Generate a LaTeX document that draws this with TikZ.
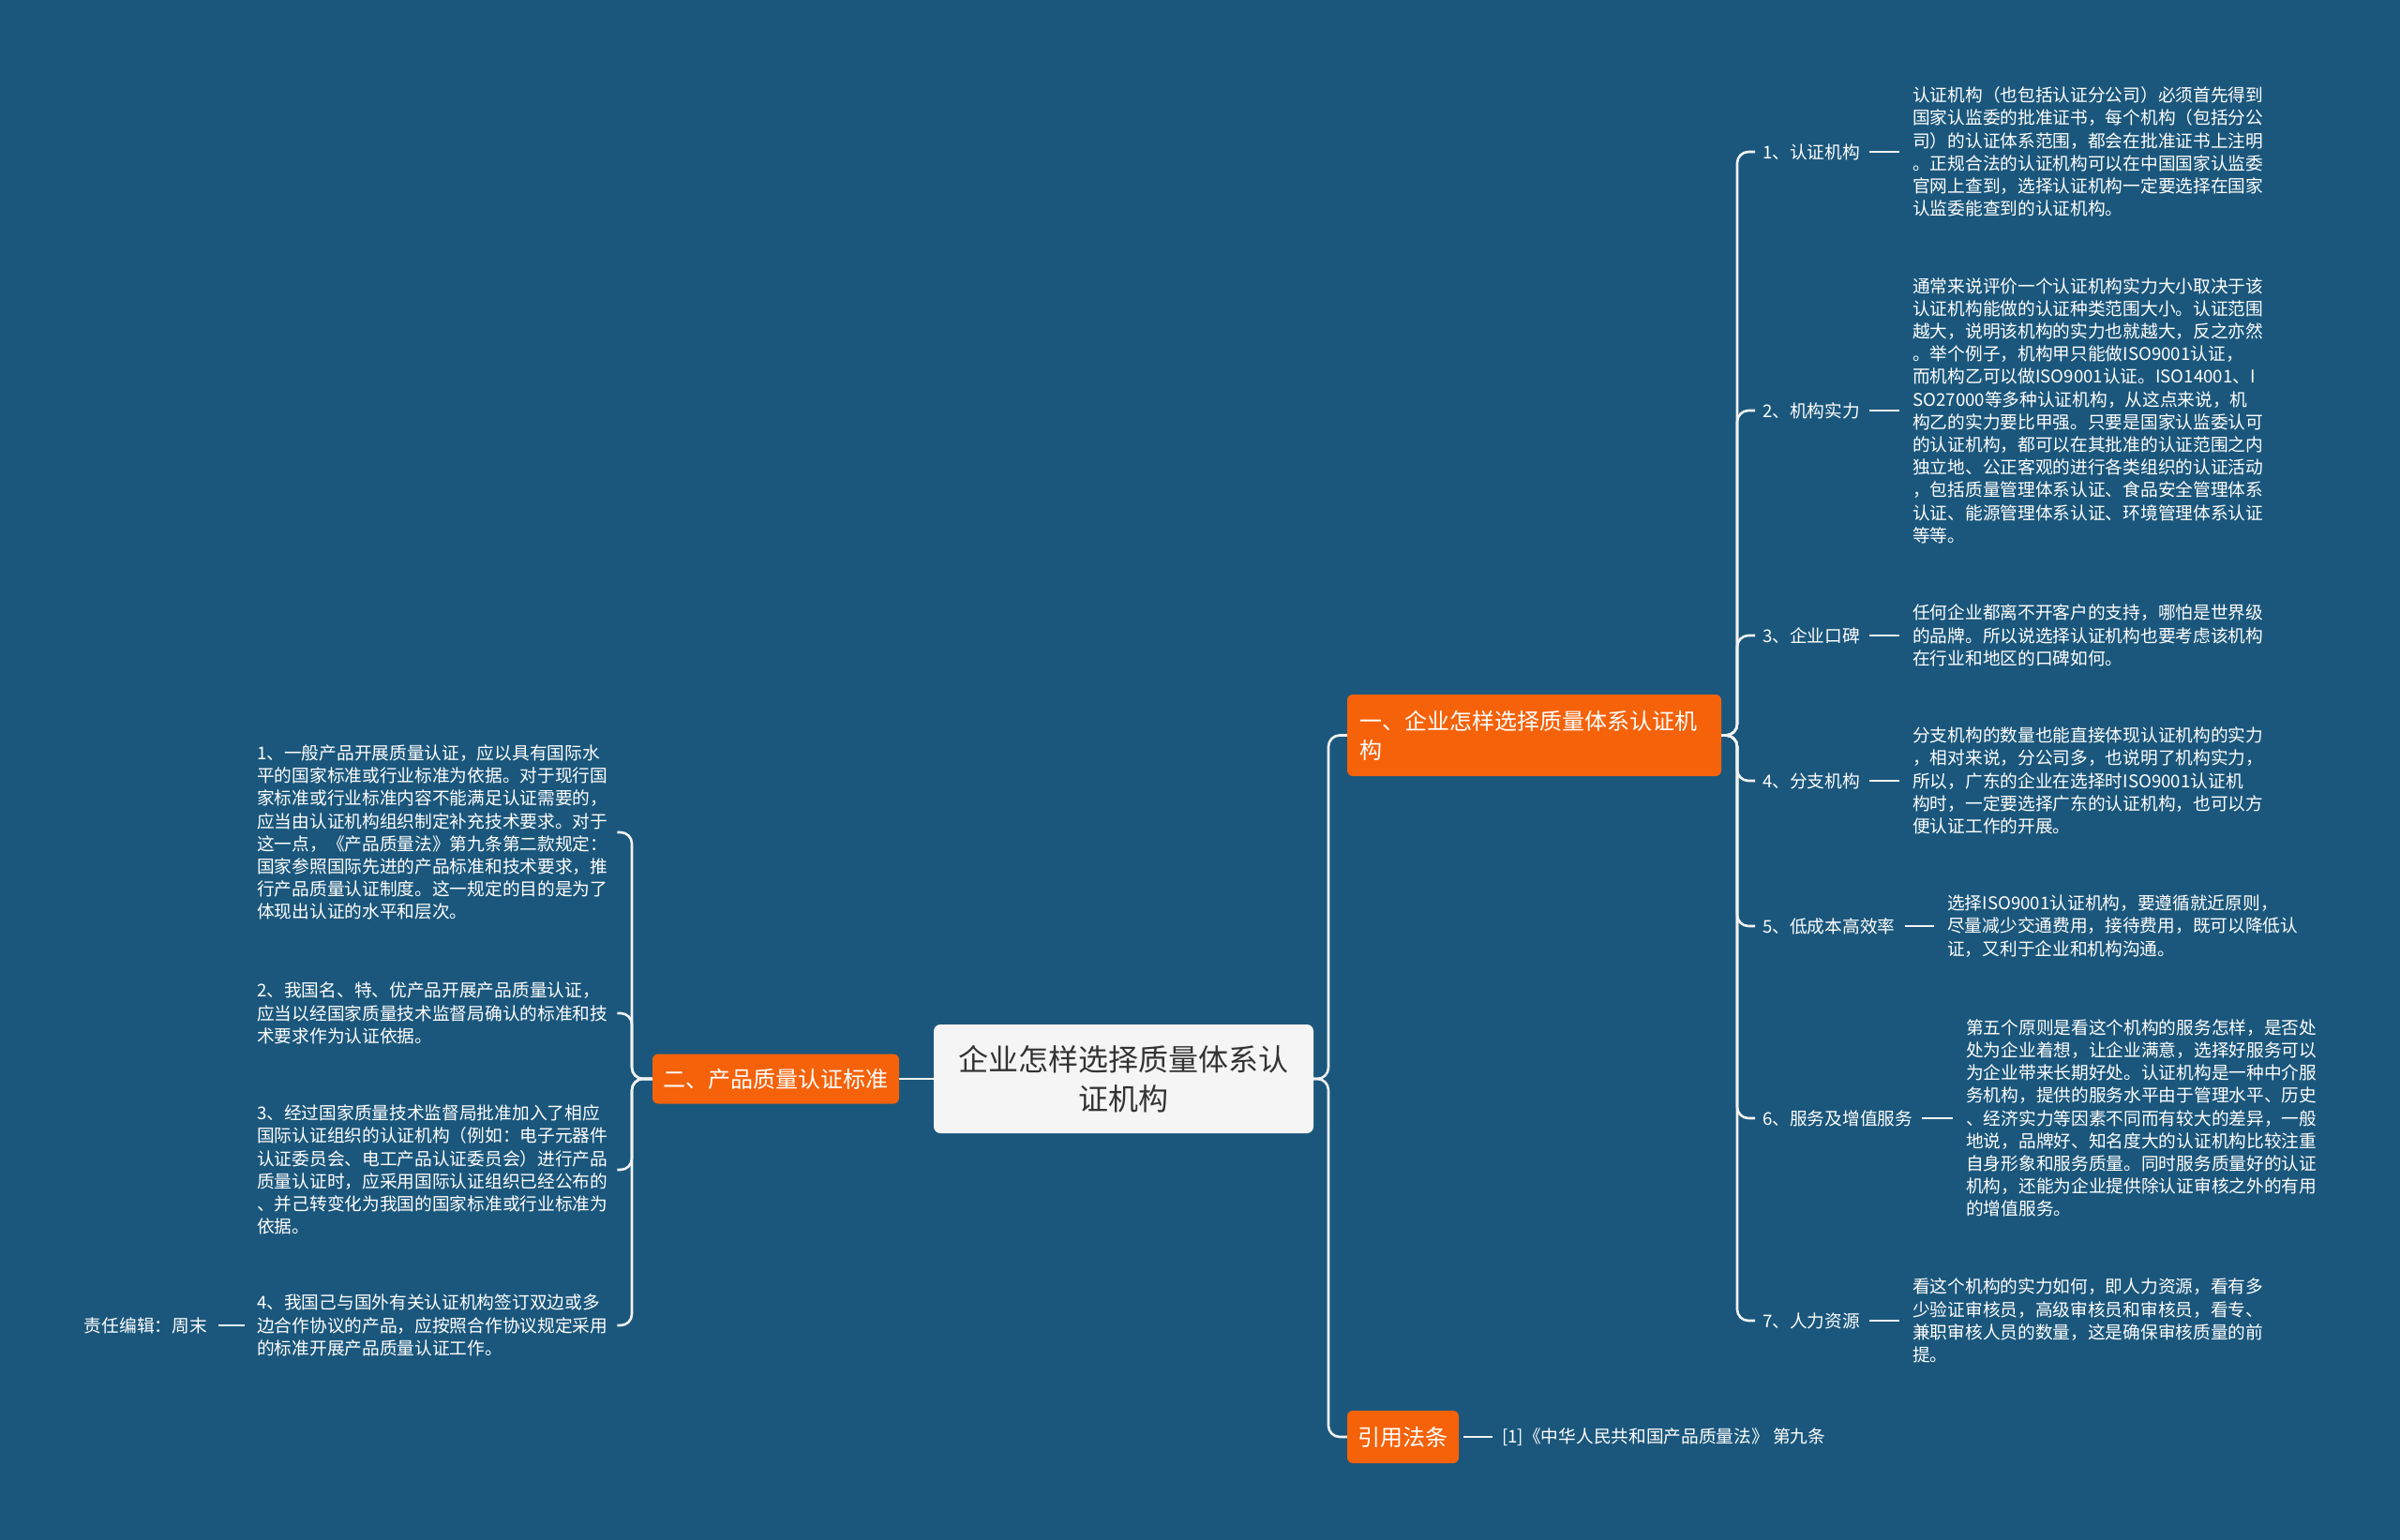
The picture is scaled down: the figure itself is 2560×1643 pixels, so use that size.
\documentclass[tikz,border=0pt]{standalone}
\usepackage{fontspec}
\setmainfont{Noto Sans CJK SC}
\usetikzlibrary{positioning}
\definecolor{bg}{RGB}{27,87,124}
\definecolor{org}{RGB}{245,98,10}
\definecolor{ctr}{RGB}{245,245,245}
\definecolor{ln}{RGB}{242,242,242}
\definecolor{ctrtext}{RGB}{51,51,51}
\begin{document}
\begin{tikzpicture}[x=1pt,y=-1pt,
  conn/.style={draw=ln, line width=2.6pt, rounded corners=12pt},
  dashln/.style={draw=ln, line width=2.6pt},
  small/.style={font=\fontsize{18.7}{24.2}\selectfont, text=white, align=left, inner sep=0pt},
  lefttxt/.style={small, text width=376pt},
  branch/.style={fill=org, rounded corners=6pt, text=white, font=\fontsize{24}{31}\selectfont, inner sep=0pt},
]
\fill[bg] (0,0) rectangle (2560,1643);
\useasboundingbox (0,0) rectangle (2560,1643);

% root and branches
\node[fill=ctr, rounded corners=7pt, minimum width=405pt, minimum height=116pt, align=center, text=ctrtext, font=\fontsize{32}{42}\selectfont, inner sep=0pt] (root) at (1198.5,1151) {企业怎样选择质量体系认\\证机构};
\node[branch, minimum width=399pt, minimum height=87pt, text width=373pt, align=left] (b1) at (1636.5,784.5) {一、企业怎样选择质量体系认证机\\构};
\node[branch, minimum width=263pt, minimum height=53pt] (b2) at (827.5,1151) {二、产品质量认证标准};
\node[branch, minimum width=119pt, minimum height=56pt] (b3) at (1496.5,1533) {引用法条};

\draw[conn] (root.east) -- (1417,1151) |- (b1.west);
\draw[conn] (root.east) -- (1417,1151) |- (b3.west);
\draw[conn] (root.west) -- (b2.east);

% right children labels
\node[small, anchor=west] (r1) at (1880,162) {1、认证机构};
\node[small, anchor=west] (r2) at (1880,438) {2、机构实力};
\node[small, anchor=west] (r3) at (1880,678) {3、企业口碑};
\node[small, anchor=west] (r4) at (1880,833) {4、分支机构};
\node[small, anchor=west] (r5) at (1880,988) {5、低成本高效率};
\node[small, anchor=west] (r6) at (1880,1193) {6、服务及增值服务};
\node[small, anchor=west] (r7) at (1880,1409) {7、人力资源};

\foreach \i in {1,...,7}{
  \draw[conn] (b1.east) -- (1853,784.5) |- ([xshift=-8pt]r\i.west);
}

% right texts
\node[small, anchor=west] (t1) at (2040,162) {认证机构（也包括认证分公司）必须首先得到\\国家认监委的批准证书，每个机构（包括分公\\司）的认证体系范围，都会在批准证书上注明\\。正规合法的认证机构可以在中国国家认监委\\官网上查到，选择认证机构一定要选择在国家\\认监委能查到的认证机构。};
\node[small, anchor=west] (t2) at (2040,438) {通常来说评价一个认证机构实力大小取决于该\\认证机构能做的认证种类范围大小。认证范围\\越大，说明该机构的实力也就越大，反之亦然\\。举个例子，机构甲只能做ISO9001认证，\\而机构乙可以做ISO9001认证。ISO14001、I\\SO27000等多种认证机构，从这点来说，机\\构乙的实力要比甲强。只要是国家认监委认可\\的认证机构，都可以在其批准的认证范围之内\\独立地、公正客观的进行各类组织的认证活动\\，包括质量管理体系认证、食品安全管理体系\\认证、能源管理体系认证、环境管理体系认证\\等等。};
\node[small, anchor=west] (t3) at (2040,678) {任何企业都离不开客户的支持，哪怕是世界级\\的品牌。所以说选择认证机构也要考虑该机构\\在行业和地区的口碑如何。};
\node[small, anchor=west] (t4) at (2040,833) {分支机构的数量也能直接体现认证机构的实力\\，相对来说，分公司多，也说明了机构实力，\\所以，广东的企业在选择时ISO9001认证机\\构时，一定要选择广东的认证机构，也可以方\\便认证工作的开展。};
\node[small, anchor=west] (t5) at (2077,988) {选择ISO9001认证机构，要遵循就近原则，\\尽量减少交通费用，接待费用，既可以降低认\\证，又利于企业和机构沟通。};
\node[small, anchor=west] (t6) at (2097,1193) {第五个原则是看这个机构的服务怎样，是否处\\处为企业着想，让企业满意，选择好服务可以\\为企业带来长期好处。认证机构是一种中介服\\务机构，提供的服务水平由于管理水平、历史\\、经济实力等因素不同而有较大的差异，一般\\地说，品牌好、知名度大的认证机构比较注重\\自身形象和服务质量。同时服务质量好的认证\\机构，还能为企业提供除认证审核之外的有用\\的增值服务。};
\node[small, anchor=west] (t7) at (2040,1409) {看这个机构的实力如何，即人力资源，看有多\\少验证审核员，高级审核员和审核员，看专、\\兼职审核人员的数量，这是确保审核质量的前\\提。};

\foreach \i in {1,...,7}{
  \draw[dashln] ([xshift=10pt]r\i.east) -- ([xshift=-14pt]t\i.west);
}

% left children
\node[lefttxt, anchor=west] (l1) at (274,888) {1、一般产品开展质量认证，应以具有国际水\\平的国家标准或行业标准为依据。对于现行国\\家标准或行业标准内容不能满足认证需要的，\\应当由认证机构组织制定补充技术要求。对于\\这一点，《产品质量法》第九条第二款规定：\\国家参照国际先进的产品标准和技术要求，推\\行产品质量认证制度。这一规定的目的是为了\\体现出认证的水平和层次。};
\node[lefttxt, anchor=west] (l2) at (274,1081) {2、我国名、特、优产品开展产品质量认证，\\应当以经国家质量技术监督局确认的标准和技\\术要求作为认证依据。};
\node[lefttxt, anchor=west] (l3) at (274,1248) {3、经过国家质量技术监督局批准加入了相应\\国际认证组织的认证机构（例如：电子元器件\\认证委员会、电工产品认证委员会）进行产品\\质量认证时，应采用国际认证组织已经公布的\\、并己转变化为我国的国家标准或行业标准为\\依据。};
\node[lefttxt, anchor=west] (l4) at (274,1414) {4、我国己与国外有关认证机构签订双边或多\\边合作协议的产品，应按照合作协议规定采用\\的标准开展产品质量认证工作。};

\foreach \i in {1,...,4}{
  \draw[conn] (b2.west) -- (674,1151) |- ([xshift=8pt]l\i.east);
}

\node[small, anchor=east] (ed) at (221,1414) {责任编辑：周末};
\draw[dashln] ([xshift=-13pt]l4.west) -- ([xshift=12pt]ed.east);

% citation
\node[small, anchor=west] (c1) at (1602,1533) {[1]《中华人民共和国产品质量法》 第九条};
\draw[dashln] ([xshift=5pt]b3.east) -- ([xshift=-10pt]c1.west);
\end{tikzpicture}
\end{document}
